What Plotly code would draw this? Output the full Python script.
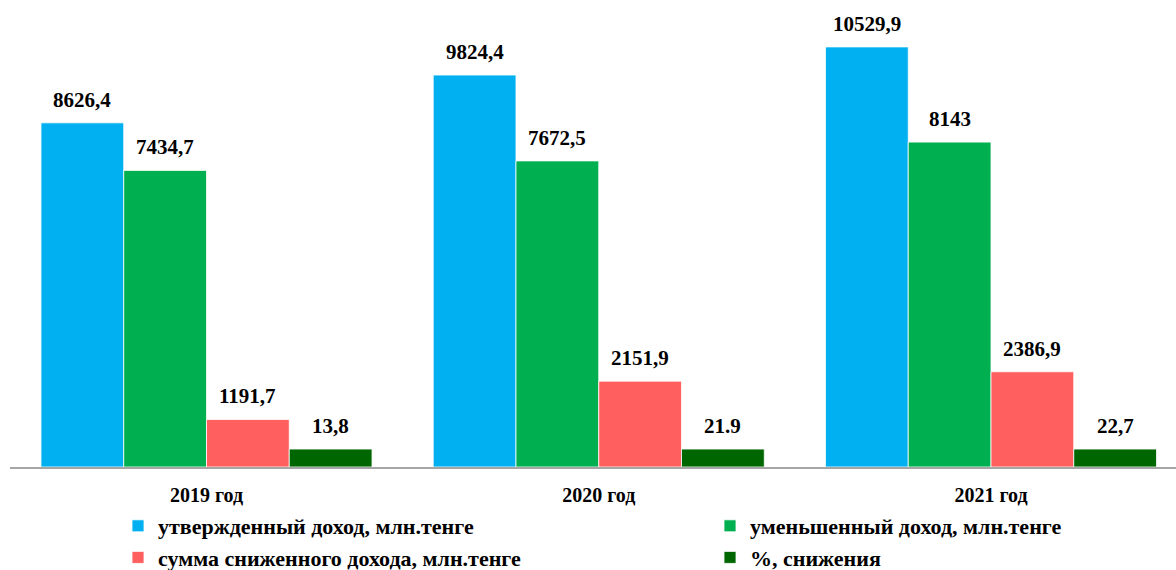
import plotly.graph_objects as go

categories = ["2019 год", "2020 год", "2021 год"]
approved = [8626.4, 9824.4, 10529.9]
reduced = [7434.7, 7672.5, 8143]
decrease_sum = [1191.7, 2151.9, 2386.9]
pct_labels = ["13,8", "21.9", "22,7"]
pct_bar_height = [450, 450, 450]  # bars in the reference are drawn at equal height

def fmt(v):
    s = ("%.1f" % v).rstrip("0").rstrip(".")
    return s.replace(".", ",")

series = [
    ("утвержденный доход, млн.тенге", approved, [fmt(v) for v in approved], "#00B0F0", "legend"),
    ("уменьшенный доход, млн.тенге", reduced, [fmt(v) for v in reduced], "#00B050", "legend2"),
    ("сумма сниженного дохода, млн.тенге", decrease_sum, [fmt(v) for v in decrease_sum], "#FF5F5F", "legend"),
    ("%, снижения", pct_bar_height, pct_labels, "#006600", "legend2"),
]

font_family = "Liberation Serif, Times New Roman, serif"
bargap = 0.156
n_series = len(series)
bar_w = (1 - bargap) / n_series

fig = go.Figure()
annotations = []
for i, (name, vals, labels, color, leg) in enumerate(series):
    fig.add_trace(go.Bar(
        name=name, x=categories, y=vals, legend=leg,
        marker=dict(color=color, line=dict(color="white", width=0.8)),
        hoverinfo="x+y+name",
    ))
    offset = (i - (n_series - 1) / 2) * bar_w
    for ci, (v, lab) in enumerate(zip(vals, labels)):
        annotations.append(dict(
            x=ci + offset, y=v, xref="x", yref="y", text=lab, showarrow=False,
            yanchor="bottom", xanchor="center", yshift=9,
            font=dict(family=font_family, size=21, color="black", weight="bold"),
        ))

legend_font = dict(family=font_family, size=22, color="black", weight="bold")
plot_h = 570 - 5 - 103
leg_y = -(505 - 467) / plot_h
plot_w = 1166
cat_px = 392.25
left_center = (206.5 - 10) / cat_px
fig.update_layout(
    width=1176, height=570,
    margin=dict(l=10, r=0, t=5, b=103, autoexpand=False),
    autosize=False,
    plot_bgcolor="white", paper_bgcolor="white",
    barmode="group", bargap=bargap, bargroupgap=0,
    font=dict(family=font_family, size=18, color="black"),
    xaxis=dict(showline=True, linecolor="#A6A6A6", linewidth=2,
               range=[-left_center, -left_center + plot_w / cat_px],
               ticks="outside", ticklen=9, tickcolor="rgba(0,0,0,0)",
               tickfont=dict(family=font_family, size=20, color="black", weight="bold")),
    yaxis=dict(range=[0, 11580], showgrid=False, showticklabels=False, zeroline=False, showline=False),
    legend=dict(orientation="v", x=(118 - 10) / 1166, xanchor="left", y=leg_y, yanchor="top",
                font=legend_font, itemwidth=30, tracegroupgap=0, bgcolor="rgba(0,0,0,0)"),
    legend2=dict(orientation="v", x=(710 - 10) / 1166, xanchor="left", y=leg_y, yanchor="top",
                 font=legend_font, itemwidth=30, tracegroupgap=0, bgcolor="rgba(0,0,0,0)"),
    annotations=annotations,
    showlegend=True,
)
fig.write_html("out.html", config={"displayModeBar": False},
               post_script="document.body.style.margin='0';document.body.style.overflow='hidden';")
